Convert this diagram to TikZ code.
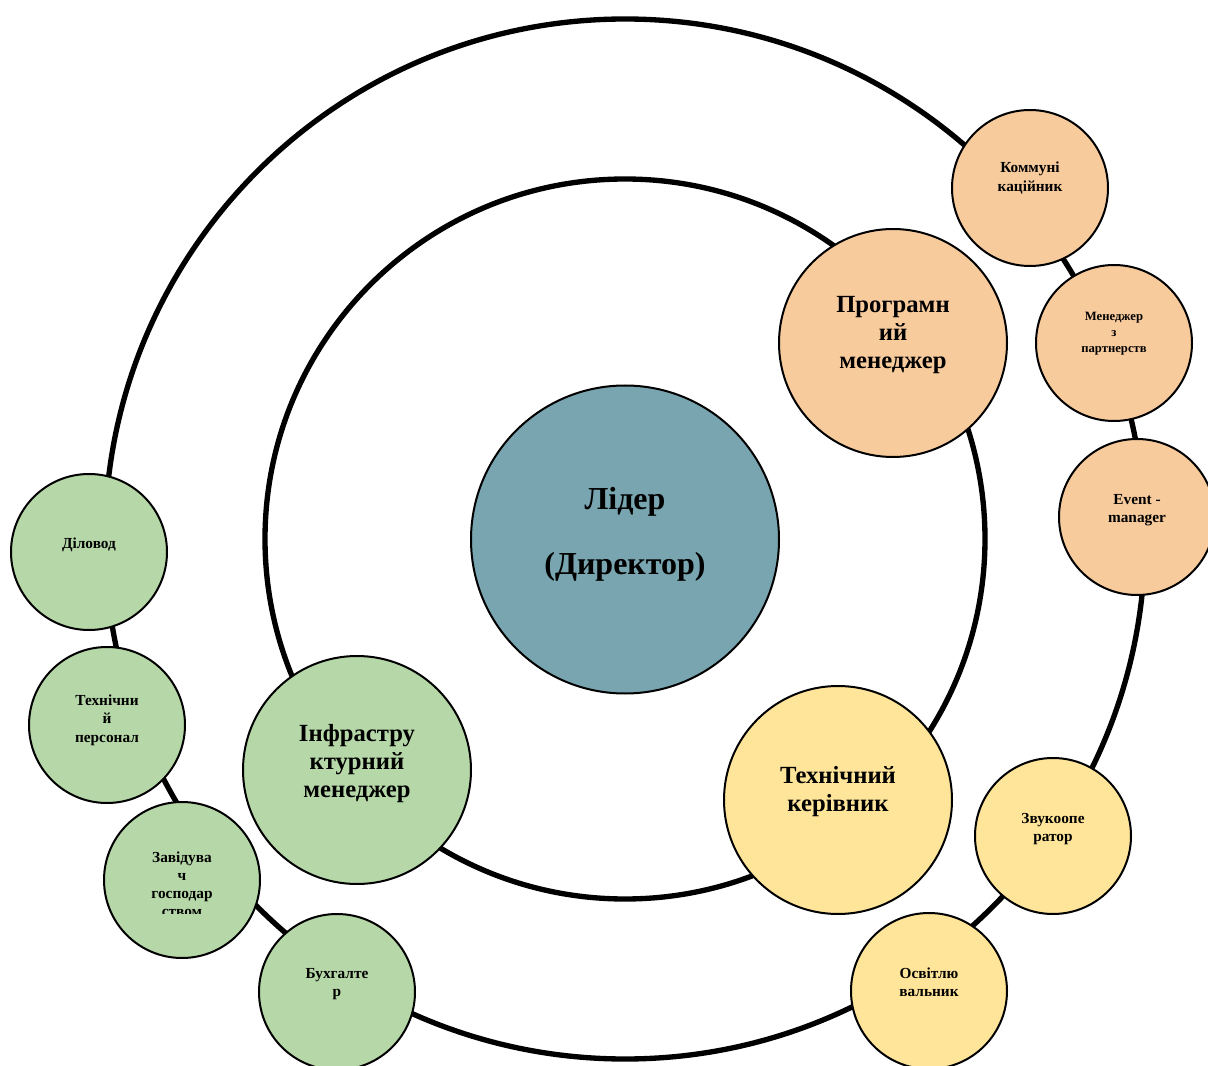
\documentclass[tikz,border=0pt]{standalone}
\usepackage{fontspec}
\setmainfont{Liberation Serif}
\definecolor{leadc}{HTML}{78A5B0}
\definecolor{orangec}{HTML}{F8CB9D}
\definecolor{greenc}{HTML}{B6D7A8}
\definecolor{yellowc}{HTML}{FFE599}
\newcommand\tb[1]{\parbox[t]{6cm}{\centering #1}}
\begin{document}
\begin{tikzpicture}[x=0.75pt,y=-0.75pt,
  ring/.style={line width=4pt},
  bub/.style={circle, draw=black, line width=1.5pt, inner sep=0pt},
  bigb/.style={bub, minimum size=171pt},
  smallb/.style={bub, minimum size=117pt},
  leadb/.style={bub, minimum size=231pt, fill=leadc},
  lbl/.style={anchor=base, inner sep=0pt, text=black},
  fcenter/.style={font=\bfseries\fontsize{24}{48.75}\selectfont},
  fbig/.style={font=\bfseries\fontsize{18.5}{21}\selectfont},
  fsmall/.style={font=\bfseries\fontsize{11.5}{14}\selectfont},
  ftiny/.style={font=\bfseries\fontsize{9.5}{12}\selectfont}]
\useasboundingbox (0,0) rectangle (1208,1066);
\clip (0,0) rectangle (1208,1066);
% rings
\node[circle, draw=black, ring, minimum size=780pt, inner sep=0pt] (outer) at (625,539) {};
\node[circle, draw=black, ring, minimum size=540pt, inner sep=0pt] (inner) at (625,539) {};
% centre
\node[leadb] (lead) at (625,539.5) {};
\node[lbl, fcenter] (tlead) at (625,510) {\tb{Лідер\\(Директор)}};
% big nodes
\node[bigb, fill=orangec] (prog) at (893,343) {};
\node[lbl, fbig] (tprog) at (893,313) {\tb{Програмн\\ий\\менеджер}};
\node[bigb, fill=greenc] (infra) at (357,770) {};
\node[lbl, fbig] (tinfra) at (357,741) {\tb{Інфрастру\\ктурний\\менеджер}};
\node[bigb, fill=yellowc] (tech) at (838,800) {};
\node[lbl, fbig] (ttech) at (838,783) {\tb{Технічний\\керівник}};
% orange small
\node[smallb, fill=orangec] (kom) at (1030,188) {};
\node[lbl, fsmall] (tkom) at (1030,173) {\tb{Коммуні\\каційник}};
\node[smallb, fill=orangec] (part) at (1114,343) {};
\node[lbl, ftiny] (tpart) at (1114,321) {\tb{Менеджер\\з\\партнерств}};
\node[smallb, fill=orangec] (event) at (1137,517) {};
\node[lbl, fsmall] (tevent) at (1137,504) {\tb{Event -\\manager}};
% yellow small
\node[smallb, fill=yellowc] (sound) at (1053,836) {};
\node[lbl, fsmall] (tsound) at (1053,823) {\tb{Звукоопе\\ратор}};
\node[smallb, fill=yellowc] (light) at (929,991) {};
\node[lbl, fsmall] (tlight) at (929,978) {\tb{Освітлю\\вальник}};
% green small
\node[smallb, fill=greenc] (dil) at (89,552) {};
\node[lbl, fsmall] (tdil) at (89,548) {\tb{Діловод}};
\node[smallb, fill=greenc] (pers) at (107,725) {};
\node[lbl, fsmall] (tpers) at (107,705) {\tb{Технічни\\й\\персонал}};
\node[smallb, fill=greenc] (gosp) at (182,880) {};
\begin{scope}
\clip (100,840) rectangle (265,913);
\node[lbl, fsmall, font=\bfseries\fontsize{11.5}{13.5}\selectfont] (tgosp) at (182,862) {\tb{Завідува\\ч\\господар\\ством}};
\end{scope}
\node[smallb, fill=greenc] (buh) at (337,992) {};
\node[lbl, fsmall] (tbuh) at (337,978) {\tb{Бухгалте\\р}};
\end{tikzpicture}
\end{document}
